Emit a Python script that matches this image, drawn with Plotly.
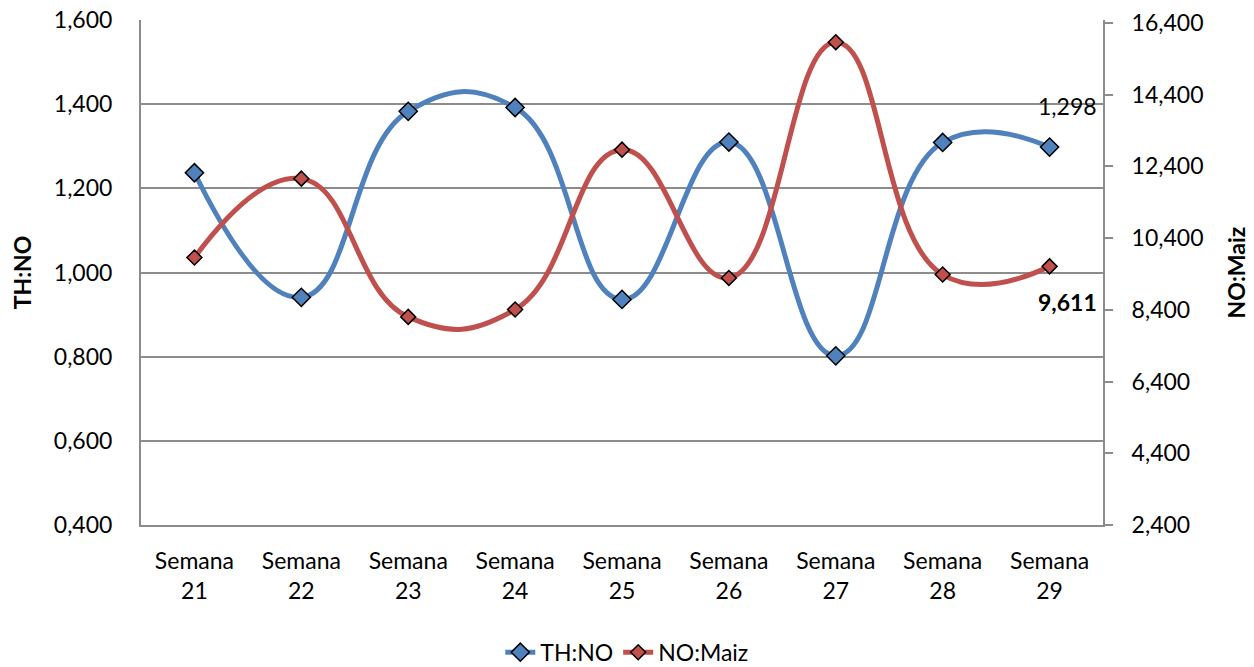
import plotly.graph_objects as go

categories = ["Semana<br>21", "Semana<br>22", "Semana<br>23", "Semana<br>24", "Semana<br>25",
              "Semana<br>26", "Semana<br>27", "Semana<br>28", "Semana<br>29"]
th_no = [1.237, 0.941, 1.383, 1.392, 0.936, 1.310, 0.802, 1.309, 1.298]
no_maiz = [9.857, 12.057, 8.202, 8.408, 12.865, 9.289, 15.862, 9.383, 9.611]

left_ticks = [0.4, 0.6, 0.8, 1.0, 1.2, 1.4, 1.6]
right_ticks = [2.4, 4.4, 6.4, 8.4, 10.4, 12.4, 14.4, 16.4]

BLUE = "#4F81BD"
RED = "#C0504D"
GRID = "#8C8C8C"
FONT = "Lato"
FS = 23

fig = go.Figure()
fig.add_trace(go.Scatter(
    x=categories, y=th_no, name="TH:NO", mode="lines+markers",
    line=dict(color=BLUE, width=5, shape="spline", smoothing=1.3),
    marker=dict(symbol="diamond", size=14, color=BLUE, line=dict(color="black", width=1.5)),
    yaxis="y"))
fig.add_trace(go.Scatter(
    x=categories, y=no_maiz, name="NO:Maiz", mode="lines+markers",
    line=dict(color=RED, width=5, shape="spline", smoothing=1.3),
    marker=dict(symbol="diamond", size=11.5, color=RED, line=dict(color="black", width=1.5)),
    yaxis="y2"))

def fmt(v):
    return f"{v:.3f}".replace(".", ",")

fig.add_annotation(x=categories[-1], y=th_no[-1], xref="x", yref="y",
                   text=fmt(th_no[-1]), showarrow=False, xshift=18, yshift=41,
                   font=dict(family=FONT, size=FS, color="black"))
fig.add_annotation(x=categories[-1], y=no_maiz[-1], xref="x", yref="y2",
                   text="<b>" + fmt(no_maiz[-1]) + "</b>", showarrow=False, xshift=18, yshift=-36,
                   font=dict(family=FONT, size=FS, color="black"))

fig.update_layout(
    width=1246, height=659,
    margin=dict(l=133, r=151, t=12, b=142, autoexpand=False),
    paper_bgcolor="white", plot_bgcolor="white",
    separators=",.",
    font=dict(family=FONT, size=FS, color="black"),
    showlegend=True,
    legend=dict(orientation="h", x=0.505, xanchor="center", y=-0.252, yanchor="middle",
                font=dict(family=FONT, size=FS), tracegroupgap=0),
    xaxis=dict(type="category", range=[-0.5, 8.5], showgrid=False,
               showline=True, linecolor=GRID, linewidth=2, ticks="",
               ticklabelstandoff=14, tickfont=dict(family=FONT, size=FS)),
    yaxis=dict(range=[0.4, 1.6], tickvals=left_ticks, tickformat=".3f",
               showgrid=True, gridcolor=GRID, gridwidth=2,
               showline=True, linecolor=GRID, linewidth=2, ticks="",
               ticklabelstandoff=22, zeroline=False, ticklabeloverflow="allow",
               tickfont=dict(family=FONT, size=FS),
               title=dict(text="<b>TH:NO</b>", font=dict(family=FONT, size=FS), standoff=17)),
    yaxis2=dict(range=[2.4, 16.48], tickvals=right_ticks, tickformat=".3f",
                overlaying="y", side="right", showgrid=False,
                showline=True, linecolor=GRID, linewidth=2,
                ticks="outside", ticklen=8, tickcolor=GRID, tickwidth=2,
                ticklabelstandoff=14, zeroline=False, ticklabeloverflow="allow",
                tickfont=dict(family=FONT, size=FS),
                title=dict(text="<b>NO:Maiz</b>", font=dict(family=FONT, size=FS), standoff=26)),
)
fig.write_html("out.html")
